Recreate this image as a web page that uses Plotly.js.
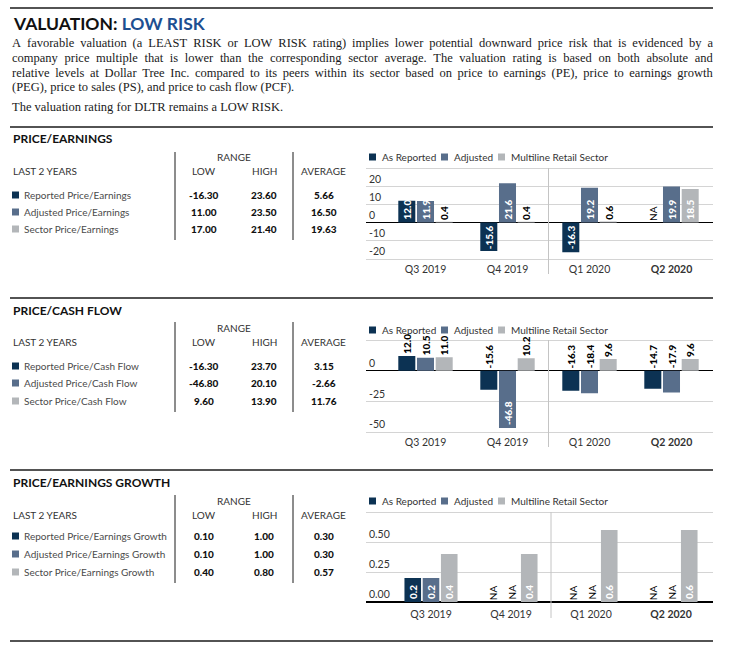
<!DOCTYPE html>
<html><head><meta charset="utf-8">
<script src="https://cdn.plot.ly/plotly-3.0.1.min.js"></script>
<style>
html,body{margin:0;padding:0;background:#fff;}
#wrap{position:relative;width:735px;height:647px;overflow:hidden;}
#chart{position:absolute;left:0;top:0;width:735px;height:647px;}
.pl{position:absolute;left:12px;width:701px;font-family:"Liberation Serif","DejaVu Serif",serif;font-size:12.5px;color:#1a1a1a;line-height:14px;height:14px;white-space:nowrap;}
.pl.j{display:flex;justify-content:space-between;}
</style>
</head><body>
<div id="wrap"><div id="chart"></div><div id="para"></div></div>
<script>
// ---------- DATA ----------
const categories = ['Q3 2019', 'Q4 2019', 'Q1 2020', 'Q2 2020'];
const categoryLabels = ['Q3 2019', 'Q4 2019', 'Q1 2020', '<b>Q2 2020</b>'];
const seriesNames = ['As Reported', 'Adjusted', 'Multiline Retail Sector'];

const peReported = [12.0, -15.6, -16.3, null];
const peAdjusted = [11.9, 21.6, 19.2, 19.9];
const peSector = [0.4, 0.4, 0.6, 18.5];

const pcfReported = [12.0, -15.6, -16.3, -14.7];
const pcfAdjusted = [10.5, -46.8, -18.4, -17.9];
const pcfSector = [11.0, 10.2, 9.6, 9.6];

const pegReported = [0.2, null, null, null];
const pegAdjusted = [0.2, null, null, null];
const pegSector = [0.4, 0.4, 0.6, 0.6];

const peRowLabels = ['Reported Price/Earnings', 'Adjusted Price/Earnings', 'Sector Price/Earnings'];
const peLow = [-16.30, 11.00, 17.00];
const peHigh = [23.60, 23.50, 21.40];
const peAvg = [5.66, 16.50, 19.63];

const pcfRowLabels = ['Reported Price/Cash Flow', 'Adjusted Price/Cash Flow', 'Sector Price/Cash Flow'];
const pcfLow = [-16.30, -46.80, 9.60];
const pcfHigh = [23.70, 20.10, 13.90];
const pcfAvg = [3.15, -2.66, 11.76];

const pegRowLabels = ['Reported Price/Earnings Growth', 'Adjusted Price/Earnings Growth', 'Sector Price/Earnings Growth'];
const pegLow = [0.10, 0.10, 0.40];
const pegHigh = [1.00, 1.00, 0.80];
const pegAvg = [0.30, 0.30, 0.57];

const peTicks = [-20, -10, 0, 10, 20, 30];
const pcfTicks = [-50, -25, 0, 25];
const pegTicks = [0, 0.25, 0.5, 0.75];

const paragraphLines = [
  'A favorable valuation (a LEAST RISK or LOW RISK rating) implies lower potential downward price risk that is evidenced by a',
  'company price multiple that is lower than the corresponding sector average. The valuation rating is based on both absolute and',
  'relative levels at Dollar Tree Inc. compared to its peers within its sector based on price to earnings (PE), price to earnings growth',
  '(PEG), price to sales (PS),  and price to cash flow (PCF).',
  'The valuation rating for DLTR remains a LOW RISK.'
];

// ---------- STYLE / LAYOUT ----------
const W = 735, H = 647;
const fx = p => p / W, fy = p => 1 - p / H;
const colors = ['#0c3253', '#586e8b', '#b3b6b9'];
const FONT = 'Lato, "Open Sans", sans-serif';
const LINE = '#1a1a1a';

const sections = [
  { title: 'PRICE/EARNINGS', lineY: 127, titleY: 138, rangeY: 157, headY: 171, rowsY: [195, 212, 229], vTop: 152, vBot: 240,
    rows: peRowLabels, low: peLow, high: peHigh, avg: peAvg,
    series: [peReported, peAdjusted, peSector], ticks: peTicks, tickFmt: v => String(v),
    pTop: 168, pBot: 259, pad: 1, legendY: 157, divBot: 274, band: 82, c0: 425.5, labelStand: 1,
    inside: v => Math.abs(v) >= 5, anchor: 'start' },
  { title: 'PRICE/CASH FLOW', lineY: 298, titleY: 310, rangeY: 328, headY: 342, rowsY: [366, 383, 401], vTop: 322, vBot: 412,
    rows: pcfRowLabels, low: pcfLow, high: pcfHigh, avg: pcfAvg,
    series: [pcfReported, pcfAdjusted, pcfSector], ticks: pcfTicks, tickFmt: v => String(v),
    pTop: 340, pBot: 432, pad: 1.5, legendY: 330, divBot: 447, band: 82, c0: 425.5, labelStand: 1,
    inside: v => v < -30, anchor: 'end' },
  { title: 'PRICE/EARNINGS GROWTH', lineY: 470, titleY: 482, rangeY: 501, headY: 515, rowsY: [536, 554, 572], vTop: 495, vBot: 583,
    rows: pegRowLabels, low: pegLow, high: pegHigh, avg: pegAvg,
    series: [pegReported, pegAdjusted, pegSector], ticks: pegTicks, tickFmt: v => v.toFixed(2),
    pTop: 512, pBot: 602, pad: 0.015, legendY: 501, divBot: 618, band: 80, c0: 431, labelStand: 3,
    inside: v => true, anchor: 'start' }
];

const traces = [];
const annotations = [];
const shapes = [];
const layout = {
  width: W, height: H, margin: { l: 0, r: 0, t: 0, b: 0 },
  paper_bgcolor: '#fff', plot_bgcolor: 'rgba(0,0,0,0)',
  barmode: 'group', bargap: 0.316, bargroupgap: 0.09, showlegend: false,
  font: { family: FONT, size: 10, color: '#333' },
  annotations, shapes
};

function txt(x, y, text, opts) {
  annotations.push(Object.assign({ xref: 'paper', yref: 'paper', x: fx(x), y: fy(y), text, showarrow: false,
    xanchor: 'left', yanchor: 'middle', font: { family: FONT, size: 10, color: '#333' } }, opts || {}));
}
function hline(x0, x1, y, color, w) {
  shapes.push({ type: 'line', xref: 'paper', yref: 'paper', x0: fx(x0), x1: fx(x1), y0: fy(y), y1: fy(y), line: { color, width: w } });
}
function vline(x, y0, y1, color, w) {
  shapes.push({ type: 'line', xref: 'paper', yref: 'paper', x0: fx(x), x1: fx(x), y0: fy(y0), y1: fy(y1), line: { color, width: w } });
}
function square(x, y, s, color) {
  shapes.push({ type: 'rect', xref: 'paper', yref: 'paper', x0: fx(x), x1: fx(x + s), y0: fy(y + s / 2), y1: fy(y - s / 2), line: { width: 0 }, fillcolor: color });
}

// Page header
hline(10, 713, 8, LINE, 1.5);
txt(11, 23, '<b>VALUATION: <span style="color:#1d4f91">LOW RISK</span></b>', { font: { family: FONT, size: 17.5, color: '#111', weight: 900 } });
hline(10, 713, 641, LINE, 1.5);

sections.forEach((s, k) => {
  const sfx = k === 0 ? '' : String(k + 1);
  hline(10, 713, s.lineY, LINE, 1.5);
  txt(11, s.titleY, '<b>' + s.title + '</b>', { font: { family: FONT, size: 12, color: '#111', weight: 900 } });
  // table
  vline(175, s.vTop, s.vBot, LINE, 1);
  vline(293, s.vTop, s.vBot, LINE, 1);
  txt(234, s.rangeY, 'RANGE', { xanchor: 'center' });
  txt(11, s.headY, 'LAST 2 YEARS');
  txt(204, s.headY, 'LOW', { xanchor: 'center' });
  txt(264, s.headY, 'HIGH', { xanchor: 'center' });
  txt(323, s.headY, 'AVERAGE', { xanchor: 'center' });
  s.rows.forEach((r, i) => {
    const y = s.rowsY[i];
    square(12, y, 7, colors[i]);
    txt(22, y, r, { font: { family: FONT, size: 10, color: '#4a4a4a' } });
    const bf = { family: FONT, size: 10, color: '#111', weight: 900 };
    txt(204, y, s.low[i].toFixed(2), { xanchor: 'center', font: bf });
    txt(264, y, s.high[i].toFixed(2), { xanchor: 'center', font: bf });
    txt(324, y, s.avg[i].toFixed(2), { xanchor: 'center', font: bf });
  });
  // legend
  const lx = [369, 441, 498], tx = [380, 452, 509];
  seriesNames.forEach((n, i) => {
    square(lx[i], s.legendY, 7, colors[i]);
    txt(tx[i], s.legendY, n, { font: { family: FONT, size: 10, color: '#333' } });
  });
  // axes
  const x0p = 366, x1p = 713;
  const vTop = s.ticks[s.ticks.length - 1], vBot = s.ticks[0];
  const scale = (s.pBot - s.pTop) / (vTop - vBot);
  const range = [vBot - s.pad, vTop + s.pad];
  const dTop = s.pTop - s.pad * scale, dBot = s.pBot + s.pad * scale;
  layout['xaxis' + sfx] = {
    domain: [fx(x0p), fx(x1p)], anchor: 'y' + sfx, type: 'category',
    categoryorder: 'array', categoryarray: categories,
    range: [(x0p - s.c0) / s.band, (x1p - s.c0) / s.band],
    tickmode: 'array', tickvals: categories, ticktext: categoryLabels,
    showgrid: false, zeroline: false, showline: false, ticks: '', ticklabelstandoff: s.labelStand,
    tickfont: { family: FONT, size: 10.5, color: '#333' }, fixedrange: true
  };
  layout['yaxis' + sfx] = {
    domain: [fy(dBot), fy(dTop)], anchor: 'x' + sfx, range,
    tickmode: 'array', tickvals: s.ticks,
    ticktext: s.ticks.map((v, i) => i === s.ticks.length - 1 ? '' : s.tickFmt(v)),
    ticklabelposition: 'inside top', showgrid: true, gridcolor: '#d4d4d4', gridwidth: 1,
    zeroline: true, zerolinecolor: '#000', zerolinewidth: 1.3, showline: false, ticks: '',
    tickfont: { family: FONT, size: 10.5, color: '#333' }, fixedrange: true
  };
  // divider between 2019 and 2020
  shapes.push({ type: 'line', xref: 'x' + sfx, yref: 'paper', x0: 1.5, x1: 1.5, y0: fy(s.divBot), y1: fy(s.pTop),
    line: { color: '#c4c4c4', width: 1 } });
  // bars
  const pitch = (1 - 0.316) / 3;
  s.series.forEach((vals, i) => {
    traces.push({
      type: 'bar', name: seriesNames[i], x: categories, y: vals, xaxis: 'x' + sfx, yaxis: 'y' + sfx,
      marker: { color: colors[i], line: { width: 0 } },
      text: vals.map(v => (v !== null && s.inside(v)) ? v.toFixed(1) : ''),
      textposition: 'inside', insidetextanchor: s.anchor, textangle: -90, constraintext: 'none',
      insidetextfont: { family: FONT, size: 10, color: '#ffffff', weight: 900 },
      hoverinfo: 'skip', cliponaxis: false
    });
    vals.forEach((v, j) => {
      if (v !== null && s.inside(v)) return;
      annotations.push({
        xref: 'x' + sfx, yref: 'y' + sfx, x: j + (i - 1) * pitch, y: v === null ? 0 : Math.max(v, 0),
        text: v === null ? 'NA' : v.toFixed(1), textangle: -90, showarrow: false,
        xanchor: 'center', yanchor: 'bottom', yshift: 1, borderpad: 0,
        font: { family: FONT, size: 10, color: '#000', weight: v === null ? 400 : 900 }
      });
    });
  });
});

Plotly.newPlot('chart', traces, layout, { staticPlot: true, displayModeBar: false });

// justified paragraph
const para = document.getElementById('para');
const lineCenters = [43, 58, 73, 87, 107];
paragraphLines.forEach((l, i) => {
  const d = document.createElement('div');
  d.className = 'pl' + (i < 3 ? ' j' : '');
  d.style.top = (lineCenters[i] - 7) + 'px';
  if (i < 3) {
    l.split(' ').forEach(w => { const sp = document.createElement('span'); sp.textContent = w; d.appendChild(sp); });
  } else {
    d.textContent = l;
  }
  para.appendChild(d);
});
</script>
</body></html>
